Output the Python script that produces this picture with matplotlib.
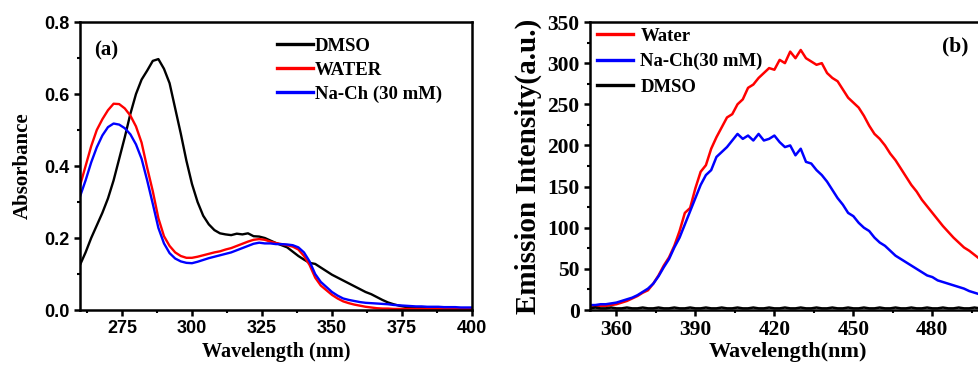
import matplotlib

matplotlib.use("Agg")
import matplotlib.pyplot as plt
from matplotlib.ticker import MultipleLocator

# absorbance spectra, 260-400 nm every 2 nm
abs_nm = list(range(260, 401, 2))
abs_dmso = [
    0.125, 0.160, 0.200, 0.235, 0.270, 0.310, 0.360, 0.420, 0.480, 0.545,
    0.600, 0.640, 0.665, 0.692, 0.697, 0.670, 0.630, 0.560, 0.490, 0.415,
    0.350, 0.300, 0.262, 0.238, 0.222, 0.213, 0.210, 0.208, 0.212, 0.210,
    0.213, 0.205, 0.204, 0.200, 0.193, 0.186, 0.180, 0.174, 0.162, 0.150,
    0.140, 0.131, 0.128, 0.118, 0.108, 0.098, 0.090, 0.082, 0.074, 0.066,
    0.058, 0.050, 0.044, 0.036, 0.028, 0.021, 0.016, 0.012, 0.009, 0.007,
    0.006, 0.006, 0.005, 0.005, 0.005, 0.005, 0.005, 0.005, 0.005, 0.005,
    0.005,
]
abs_water = [
    0.345, 0.400, 0.455, 0.500, 0.530, 0.555, 0.573, 0.572, 0.560, 0.540,
    0.510, 0.465, 0.395, 0.330, 0.255, 0.205, 0.178, 0.160, 0.150, 0.145,
    0.145, 0.148, 0.152, 0.156, 0.160, 0.163, 0.168, 0.172, 0.178, 0.184,
    0.190, 0.195, 0.197, 0.195, 0.190, 0.186, 0.183, 0.180, 0.176, 0.168,
    0.150, 0.125, 0.090, 0.068, 0.055, 0.042, 0.032, 0.024, 0.019, 0.015,
    0.012, 0.009, 0.007, 0.005, 0.004, 0.004, 0.003, 0.003, 0.003, 0.003,
    0.003, 0.003, 0.003, 0.003, 0.003, 0.003, 0.003, 0.003, 0.003, 0.003,
    0.003,
]
abs_nach = [
    0.315, 0.360, 0.410, 0.452, 0.485, 0.508, 0.518, 0.515, 0.505, 0.488,
    0.460, 0.420, 0.360, 0.295, 0.228, 0.185, 0.158, 0.143, 0.135, 0.131,
    0.130, 0.134, 0.139, 0.144, 0.148, 0.152, 0.156, 0.160, 0.166, 0.172,
    0.178, 0.184, 0.187, 0.185, 0.185, 0.183, 0.183, 0.182, 0.180, 0.174,
    0.160, 0.135, 0.100, 0.078, 0.064, 0.050, 0.040, 0.032, 0.028, 0.025,
    0.022, 0.020, 0.019, 0.018, 0.017, 0.016, 0.014, 0.013, 0.012, 0.011,
    0.010, 0.010, 0.009, 0.009, 0.009, 0.008, 0.008, 0.008, 0.007, 0.007,
    0.007,
]

# emission spectra, 350-500 nm every 2 nm
em_nm = list(range(350, 501, 2))
em_water = [
    4, 4, 5, 5, 6, 7, 9, 11, 14, 17,
    21, 24, 32, 42, 54, 64, 78, 96, 118, 124,
    148, 168, 176, 196, 210, 222, 234, 238, 250, 256,
    270, 274, 282, 288, 294, 292, 304, 300, 314, 306,
    316, 306, 302, 298, 300, 288, 282, 278, 268, 258,
    252, 246, 236, 224, 214, 208, 200, 190, 182, 172,
    162, 152, 144, 134, 126, 118, 110, 102, 95, 88,
    82, 76, 72, 67, 62, 57,
]
em_nach = [
    6, 6, 7, 7, 8, 9, 11, 13, 15, 18,
    22, 26, 32, 41, 52, 62, 76, 88, 104, 120,
    136, 152, 164, 170, 186, 192, 198, 206, 214, 208,
    212, 206, 214, 206, 208, 212, 204, 198, 200, 188,
    196, 180, 178, 170, 164, 156, 146, 136, 128, 118,
    114, 106, 100, 96, 88, 82, 78, 72, 66, 62,
    58, 54, 50, 46, 42, 40, 36, 34, 32, 30,
    28, 26, 23, 21, 19, 18,
]
em_dmso = [
    2, 3, 2, 2, 3, 2, 2, 3, 2, 2,
    3, 2, 2, 3, 2, 2, 3, 2, 2, 3,
    2, 2, 3, 2, 2, 3, 2, 2, 3, 2,
    2, 3, 2, 2, 3, 2, 2, 3, 2, 2,
    3, 2, 2, 3, 2, 2, 3, 2, 2, 3,
    2, 2, 3, 2, 2, 3, 2, 2, 3, 2,
    2, 3, 2, 2, 3, 2, 2, 3, 2, 2,
    3, 2, 2, 3, 2, 2,
]

SERIF = ["Liberation Serif", "DejaVu Serif"]
SANS = ["Liberation Sans", "DejaVu Sans"]


def style_axes(ax):
    for s in ax.spines.values():
        s.set_linewidth(1.8)
    ax.tick_params(which="major", direction="out", length=4, width=1.8)
    ax.tick_params(which="minor", direction="out", length=2.5, width=1.5)
    ax.tick_params(top=False, right=False, which="both")


fig = plt.figure(figsize=(9.79, 3.68), dpi=100)

# (a) absorbance
ax1 = fig.add_axes([0.0817, 0.1576, 0.4004, 0.7826])
ax1.plot(abs_nm, abs_dmso, color="black", lw=1.7, label="DMSO")
ax1.plot(abs_nm, abs_water, color="#ff0000", lw=1.7, label="WATER")
ax1.plot(abs_nm, abs_nach, color="#0000ff", lw=1.7, label="Na-Ch (30 mM)")
ax1.set_xlim(260, 400)
ax1.set_ylim(0, 0.8)
ax1.xaxis.set_minor_locator(MultipleLocator(12.5))
ax1.yaxis.set_major_locator(MultipleLocator(0.2))
ax1.yaxis.set_minor_locator(MultipleLocator(0.1))
ax1.set_xticks([275, 300, 325, 350, 375, 400])
ax1.yaxis.set_major_formatter(plt.FuncFormatter(lambda v, p: f"{v:.1f}"))
style_axes(ax1)
for lab in ax1.get_xticklabels() + ax1.get_yticklabels():
    lab.set_family(SANS)
    lab.set_fontweight("bold")
    lab.set_fontsize(13)
ax1.set_xlabel("Wavelength (nm)", family=SERIF, fontweight="bold", fontsize=14.5, labelpad=3)
ax1.set_ylabel("Absorbance", family=SERIF, fontweight="bold", fontsize=15, labelpad=8)
ax1.text(0.035, 0.9, "(a)", transform=ax1.transAxes, family=SERIF,
         fontweight="bold", fontsize=15, va="center")
ax1.legend(loc="upper left", bbox_to_anchor=(0.503, 0.945), frameon=False,
           prop={"family": SERIF, "weight": "bold", "size": 13.5},
           handlelength=1.9, handletextpad=0.1, labelspacing=0.36,
           borderaxespad=0, borderpad=0)
for line in ax1.get_legend().get_lines():
    line.set_linewidth(2.4)

# (b) emission
ax2 = fig.add_axes([0.6027, 0.1576, 0.4035, 0.7826])
ax2.plot(em_nm, em_water, color="#ff0000", lw=1.8, label="Water")
ax2.plot(em_nm, em_nach, color="#0000ff", lw=1.8, label="Na-Ch(30 mM)")
ax2.plot(em_nm, em_dmso, color="black", lw=1.8, label="DMSO")
ax2.set_xlim(350, 500)
ax2.set_ylim(0, 350)
ax2.set_xticks([360, 390, 420, 450, 480])
ax2.xaxis.set_minor_locator(MultipleLocator(15))
ax2.yaxis.set_major_locator(MultipleLocator(50))
ax2.yaxis.set_minor_locator(MultipleLocator(25))
style_axes(ax2)
for lab in ax2.get_xticklabels() + ax2.get_yticklabels():
    lab.set_family(SERIF)
    lab.set_fontweight("bold")
    lab.set_fontsize(15.5)
ax2.set_xlabel("Wavelength(nm)", family=SERIF, fontweight="bold", fontsize=16, labelpad=1)
ax2.set_ylabel("Emission Intensity(a.u.)", family=SERIF, fontweight="bold",
               fontsize=21, labelpad=4)
ax2.text(0.89, 0.915, "(b)", transform=ax2.transAxes, family=SERIF,
         fontweight="bold", fontsize=15.5, va="center")
ax2.legend(loc="upper left", bbox_to_anchor=(0.018, 0.98), frameon=False,
           prop={"family": SERIF, "weight": "bold", "size": 13.5},
           handlelength=1.9, handletextpad=0.4, labelspacing=0.44,
           borderaxespad=0, borderpad=0)
for line in ax2.get_legend().get_lines():
    line.set_linewidth(2.4)

fig.savefig("out.png", dpi=100)
